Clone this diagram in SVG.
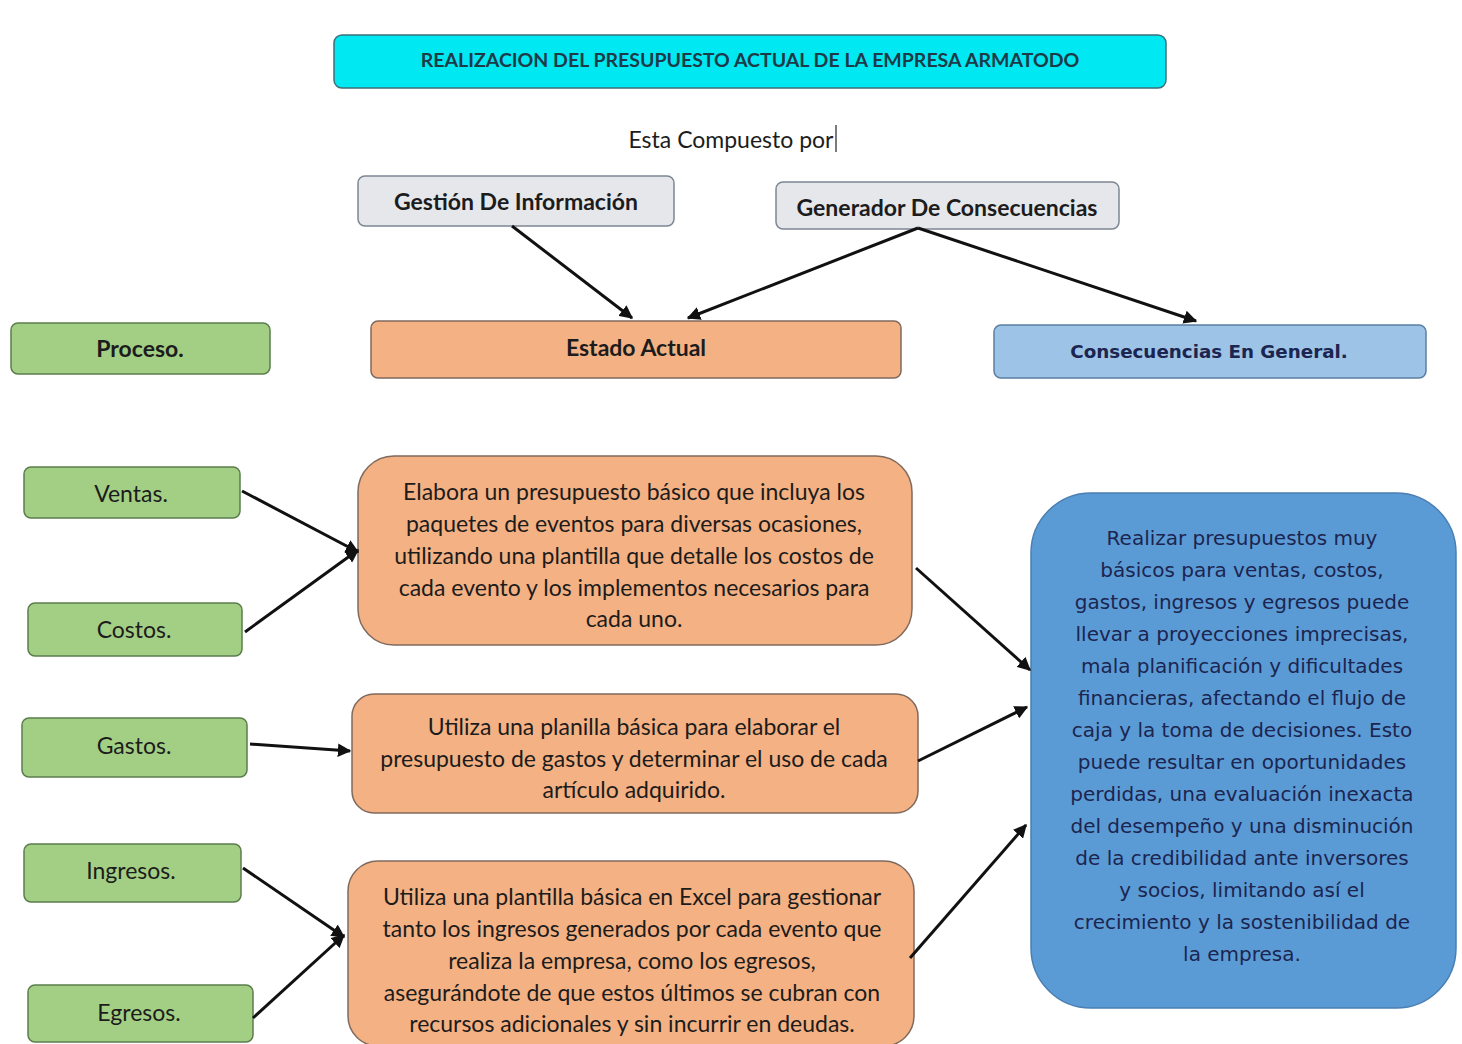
<svg xmlns="http://www.w3.org/2000/svg" width="1462" height="1044" viewBox="0 0 1462 1044">
<style>
.bg{fill:#ffffff}
.t{font-family:Lato,"Open Sans","Liberation Sans",sans-serif;fill:#1c1c1c;text-anchor:middle;dominant-baseline:central;font-size:23px}
.b{font-weight:bold}
.v{font-family:"DejaVu Sans",Verdana,sans-serif;fill:#1b2550;text-anchor:middle;dominant-baseline:central;font-size:20px}
.green{fill:#a3cf84;stroke:#5b7d4c;stroke-width:1.5}
.orange{fill:#f4b183;stroke:#7f6a5e;stroke-width:1.5}
.gray{fill:#e5e7eb;stroke:#7d8795;stroke-width:1.5}
.lblue{fill:#9dc3e6;stroke:#5b7fa3;stroke-width:1.5}
.dblue{fill:#5b9bd5;stroke:#4a7fb3;stroke-width:1.5}
.cyan{fill:#00e8f2;stroke:#3d6f78;stroke-width:1.5}
.conn{stroke:#111;stroke-width:3;fill:none;marker-end:url(#ah)}
</style>
<defs>
<marker id="ah" viewBox="0 0 10 10" refX="9" refY="5" markerWidth="4.5" markerHeight="4.5" orient="auto" markerUnits="strokeWidth">
<path d="M0,0 L10,5 L0,10 z" fill="#111"/>
</marker>
</defs>
<rect class="bg" x="0" y="0" width="1462" height="1044"/>

<g id="title">
<rect class="cyan" x="334" y="35" width="832" height="53" rx="8"/>
<text class="t b" x="750" y="59" style="fill:#1d3a48;font-size:19.5px">REALIZACION DEL PRESUPUESTO ACTUAL DE LA EMPRESA ARMATODO</text>
</g>

<g id="compuesto">
<text class="t" x="731" y="139">Esta Compuesto por</text>
<line x1="836" y1="125" x2="836" y2="152" stroke="#222" stroke-width="1.2"/>
</g>

<g id="gestion">
<rect class="gray" x="358" y="176" width="316" height="50" rx="7"/>
<text class="t b" x="516" y="201">Gestión De Información</text>
</g>

<g id="generador">
<rect class="gray" x="776" y="182" width="343" height="47" rx="7"/>
<text class="t b" x="947" y="207">Generador De Consecuencias</text>
</g>

<g id="proceso">
<rect class="green" x="11" y="323" width="259" height="51" rx="7"/>
<text class="t b" x="140" y="348">Proceso.</text>
</g>

<g id="estado">
<rect class="orange" x="371" y="321" width="530" height="57" rx="7"/>
<text class="t b" x="636" y="347">Estado Actual</text>
</g>

<g id="consecuencias">
<rect class="lblue" x="994" y="325" width="432" height="53" rx="7"/>
<text class="v b" x="1209" y="351" style="font-size:18.3px">Consecuencias En General.</text>
</g>

<g id="ventas">
<rect class="green" x="24" y="467" width="216" height="51" rx="7"/>
<text class="t" x="131" y="493">Ventas.</text>
</g>

<g id="costos">
<rect class="green" x="28" y="603" width="214" height="53" rx="7"/>
<text class="t" x="134" y="629">Costos.</text>
</g>

<g id="gastos">
<rect class="green" x="22" y="718" width="225" height="59" rx="7"/>
<text class="t" x="134" y="745">Gastos.</text>
</g>

<g id="ingresos">
<rect class="green" x="24" y="844" width="217" height="58" rx="7"/>
<text class="t" x="131" y="870">Ingresos.</text>
</g>

<g id="egresos">
<rect class="green" x="28" y="985" width="225" height="57" rx="7"/>
<text class="t" x="139" y="1012">Egresos.</text>
</g>

<g id="box1">
<rect class="orange" x="358" y="456" width="554" height="189" rx="36"/>
<text class="t" x="634" y="491">Elabora un presupuesto básico que incluya los</text>
<text class="t" x="634" y="523">paquetes de eventos para diversas ocasiones,</text>
<text class="t" x="634" y="555">utilizando una plantilla que detalle los costos de</text>
<text class="t" x="634" y="587">cada evento y los implementos necesarios para</text>
<text class="t" x="634" y="618">cada uno.</text>
</g>

<g id="box2">
<rect class="orange" x="352" y="694" width="566" height="119" rx="22"/>
<text class="t" x="634" y="726">Utiliza una planilla básica para elaborar el</text>
<text class="t" x="634" y="758">presupuesto de gastos y determinar el uso de cada</text>
<text class="t" x="634" y="789">artículo adquirido.</text>
</g>

<g id="box3">
<rect class="orange" x="348" y="861" width="566" height="185" rx="30"/>
<text class="t" x="632" y="896">Utiliza una plantilla básica en Excel para gestionar</text>
<text class="t" x="632" y="928">tanto los ingresos generados por cada evento que</text>
<text class="t" x="632" y="960">realiza la empresa, como los egresos,</text>
<text class="t" x="632" y="992">asegurándote de que estos últimos se cubran con</text>
<text class="t" x="632" y="1023">recursos adicionales y sin incurrir en deudas.</text>
</g>

<g id="resultado">
<rect class="dblue" x="1031" y="493" width="425" height="515" rx="60"/>
<text class="v" x="1242" y="538">Realizar presupuestos muy</text>
<text class="v" x="1242" y="570">básicos para ventas, costos,</text>
<text class="v" x="1242" y="602">gastos, ingresos y egresos puede</text>
<text class="v" x="1242" y="634">llevar a proyecciones imprecisas,</text>
<text class="v" x="1242" y="666">mala planificación y dificultades</text>
<text class="v" x="1242" y="698">financieras, afectando el flujo de</text>
<text class="v" x="1242" y="730">caja y la toma de decisiones. Esto</text>
<text class="v" x="1242" y="762">puede resultar en oportunidades</text>
<text class="v" x="1242" y="794">perdidas, una evaluación inexacta</text>
<text class="v" x="1242" y="826">del desempeño y una disminución</text>
<text class="v" x="1242" y="858">de la credibilidad ante inversores</text>
<text class="v" x="1242" y="890">y socios, limitando así el</text>
<text class="v" x="1242" y="922">crecimiento y la sostenibilidad de</text>
<text class="v" x="1242" y="954">la empresa.</text>
</g>

<g id="connectors">
<line class="conn" x1="512" y1="226" x2="632" y2="318"/>
<line class="conn" x1="918" y1="228" x2="688" y2="318"/>
<line class="conn" x1="918" y1="228" x2="1196" y2="321"/>
<line class="conn" x1="242" y1="491" x2="358" y2="552"/>
<line class="conn" x1="245" y1="632" x2="358" y2="550"/>
<line class="conn" x1="250" y1="744" x2="350" y2="751"/>
<line class="conn" x1="243" y1="868" x2="344" y2="937"/>
<line class="conn" x1="253" y1="1018" x2="344" y2="935"/>
<line class="conn" x1="916" y1="568" x2="1030" y2="670"/>
<line class="conn" x1="918" y1="761" x2="1027" y2="707"/>
<line class="conn" x1="910" y1="958" x2="1026" y2="825"/>
</g>
</svg>
